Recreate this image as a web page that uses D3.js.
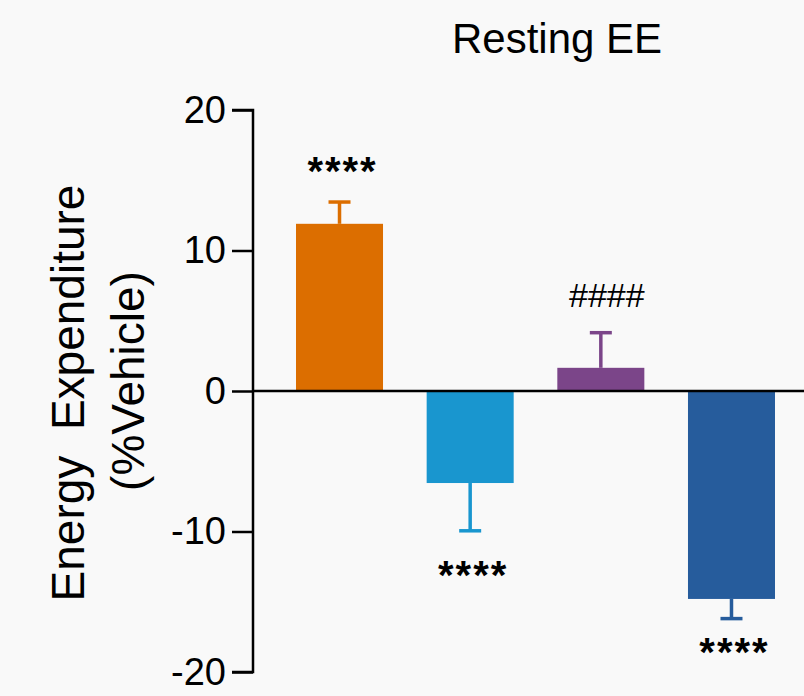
<!DOCTYPE html>
<html>
<head>
<meta charset="utf-8">
<script src="https://cdn.jsdelivr.net/npm/d3@7"></script>
<style>
  html, body { margin: 0; padding: 0; background: #f9f9f9; }
  svg { display: block; }
  text { font-family: "Liberation Sans", Arial, Helvetica, sans-serif; fill: #000; }
</style>
</head>
<body>
<svg id="chart" width="804" height="696"></svg>
<script>
// ---- data ----
const categories = ["Group A", "Group B", "Group C", "Group D"];
const values = [11.9, -6.55, 1.65, -14.8];
const errors = [1.55, 3.4, 2.5, 1.4];
const colors = ["#DC6E00", "#1996CF", "#7B4589", "#265C9C"];
const annotations = ["****", "****", "####", "****"];
const annotationY = [16.05, -12.7, 6.83, -18.15];
const yTicks = [-20, -10, 0, 10, 20];
const titleText = "Resting EE";
const yLabelLines = ["Energy  Expenditure", "(%Vehicle)"];

// ---- layout ----
const svg = d3.select("#chart");
const W = 804, H = 696;
svg.append("rect").attr("width", W).attr("height", H).attr("fill", "#f9f9f9");

const y = d3.scaleLinear().domain([-20, 20]).range([672, 110]);
const x = d3.scaleBand().domain(categories).range([296, 775]).paddingInner(0.334).paddingOuter(0);
const axisX = 253;

// y axis
const yAxis = d3.axisLeft(y).tickValues(yTicks).tickSize(21).tickPadding(6).tickFormat(d => String(d));
const gy = svg.append("g").attr("transform", `translate(${axisX},0)`).call(yAxis);
gy.select(".domain").attr("stroke", "#000").attr("stroke-width", 2.5).attr("d", `M-21,${y(20)}H0V${y(-20)}H-21`);
gy.selectAll(".tick line").attr("stroke", "#000").attr("stroke-width", 2.5);
gy.selectAll(".tick text").attr("font-size", 38).attr("font-family", "Liberation Sans, Arial, sans-serif").attr("fill", "#000");

// bars
const bars = svg.append("g");
categories.forEach((c, i) => {
  const v = values[i];
  const x0 = x(c), bw = x.bandwidth(), cx = x0 + bw / 2;
  // error bar (one-sided, outward)
  const ye = v >= 0 ? v + errors[i] : v - errors[i];
  bars.append("line").attr("x1", cx).attr("x2", cx).attr("y1", y(v)).attr("y2", y(ye))
    .attr("stroke", colors[i]).attr("stroke-width", 3.5);
  bars.append("line").attr("x1", cx - 11).attr("x2", cx + 11).attr("y1", y(ye)).attr("y2", y(ye))
    .attr("stroke", colors[i]).attr("stroke-width", 3.5);
  bars.append("rect").attr("x", x0).attr("width", bw)
    .attr("y", y(Math.max(0, v))).attr("height", Math.abs(y(v) - y(0)))
    .attr("fill", colors[i]);
  // annotation
  const isHash = annotations[i].startsWith("#");
  bars.append("text").attr("x", cx + (isHash ? 6 : 3)).attr("y", y(annotationY[i]))
    .attr("text-anchor", "middle")
    .attr("font-size", isHash ? 34 : 40)
    .attr("font-weight", isHash ? "normal" : "bold")
    .attr("letter-spacing", isHash ? 0 : 2)
    .attr("dy", isHash ? "0.35em" : "0.5em")
    .text(annotations[i]);
});

// zero line
svg.append("line").attr("x1", axisX).attr("x2", W).attr("y1", y(0)).attr("y2", y(0))
  .attr("stroke", "#000").attr("stroke-width", 2.5);

// title
svg.append("text").attr("x", 557).attr("y", 53).attr("text-anchor", "middle")
  .attr("font-size", 42).text(titleText);

// y label
const yl = svg.append("text").attr("transform", `translate(0,${y(0)}) rotate(-90)`).attr("text-anchor", "middle")
  .attr("font-size", 46).style("white-space", "pre");
yl.append("tspan").attr("x", -2).attr("y", 84).text(yLabelLines[0]);
yl.append("tspan").attr("x", 10).attr("y", 144).text(yLabelLines[1]);
</script>
</body>
</html>
